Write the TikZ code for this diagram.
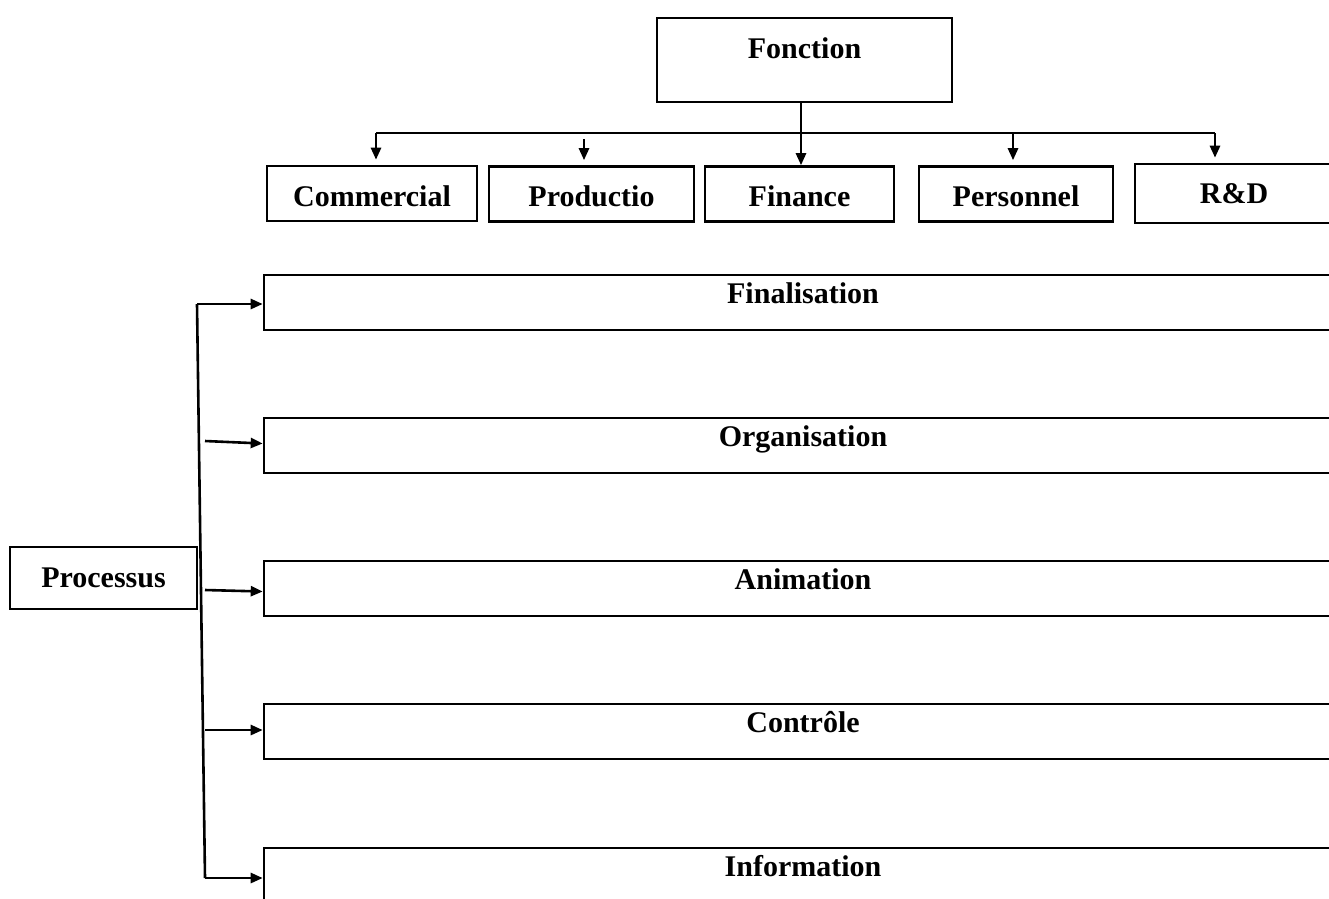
\documentclass[tikz,border=0pt]{standalone}
\usepackage{fontspec}
\setmainfont{Liberation Serif}
\usetikzlibrary{arrows.meta}
\begin{document}
\begin{tikzpicture}[x=1pt,y=-1pt,
  lbl/.style={font=\fontsize{30}{30}\selectfont\bfseries},
  box/.style={draw, line width=2.6pt, inner sep=0pt, lbl},
  topbox/.style={box, text height=40pt, text depth=15pt},
  procbox/.style={box, minimum width=1078pt, text height=28pt, text depth=27pt},
  arr/.style={line width=2.6pt, -{Triangle[length=12pt,width=10pt]}},
  ln/.style={line width=2.6pt}]
\useasboundingbox (0,0) rectangle (1329,898);
\clip (0,0) rectangle (1329,898);

% top hierarchy
\node[box, minimum width=295pt, text height=40pt, text depth=44pt] (fonction) at (804.5,60) {Fonction};
\node[topbox, minimum width=210pt] (commercial) at (372,193.5) {Commercial};
\node[topbox, minimum width=205pt] (productio) at (591.5,194) {Productio};
\node[topbox, minimum width=189pt] (finance) at (799.5,194) {Finance};
\node[topbox, minimum width=194pt] (personnel) at (1016,194) {Personnel};
\node[box, minimum width=198pt, text height=39pt, text depth=20pt] (rd) at (1234,193.5) {R\&D};

\coordinate (fs) at (801,102);
\draw[arr] (fs) -- (fs |- finance.north);
\coordinate (bL) at (376,133);
\coordinate (bR) at (1215,133);
\coordinate (bP) at (1013,133);
\coordinate (pA) at (584,139);
\draw[ln] (bL) -- (bR);
\draw[arr, shorten >=5pt] (bL) -- (bL |- commercial.north);
\draw[arr, shorten >=5pt] (pA) -- (pA |- productio.north);
\draw[arr, shorten >=5pt] (bP) -- (bP |- personnel.north);
\draw[arr, shorten >=5pt] (bR) -- (bR |- rd.north);

% process
\node[box, minimum width=187pt, text height=40pt, text depth=22pt] (processus) at (103.5,578) {Processus};
\node[procbox] (finalisation) at (803,302.5) {Finalisation};
\node[procbox] (organisation) at (803,445.5) {Organisation};
\node[procbox] (animation) at (803,588.5) {Animation};
\node[procbox] (controle) at (803,731.5) {Contrôle};
\node[procbox] (information) at (803,875.5) {Information};

\coordinate (vTop) at (197,304);
\coordinate (vBot) at (205,878);
\coordinate (oS) at (205,441);
\coordinate (aS) at (205,590);
\coordinate (cS) at (205,730);
\draw[ln] (vTop) -- (vBot);
\draw[arr] (vTop) -- (finalisation.west |- vTop);
\draw[arr] (oS) -- ([yshift=2pt]organisation.west);
\draw[arr] (aS) -- ([yshift=-3pt]animation.west);
\draw[arr] (cS) -- ([yshift=1.5pt]controle.west);
\draw[arr] (vBot) -- (information.west |- vBot);
\end{tikzpicture}
\end{document}
